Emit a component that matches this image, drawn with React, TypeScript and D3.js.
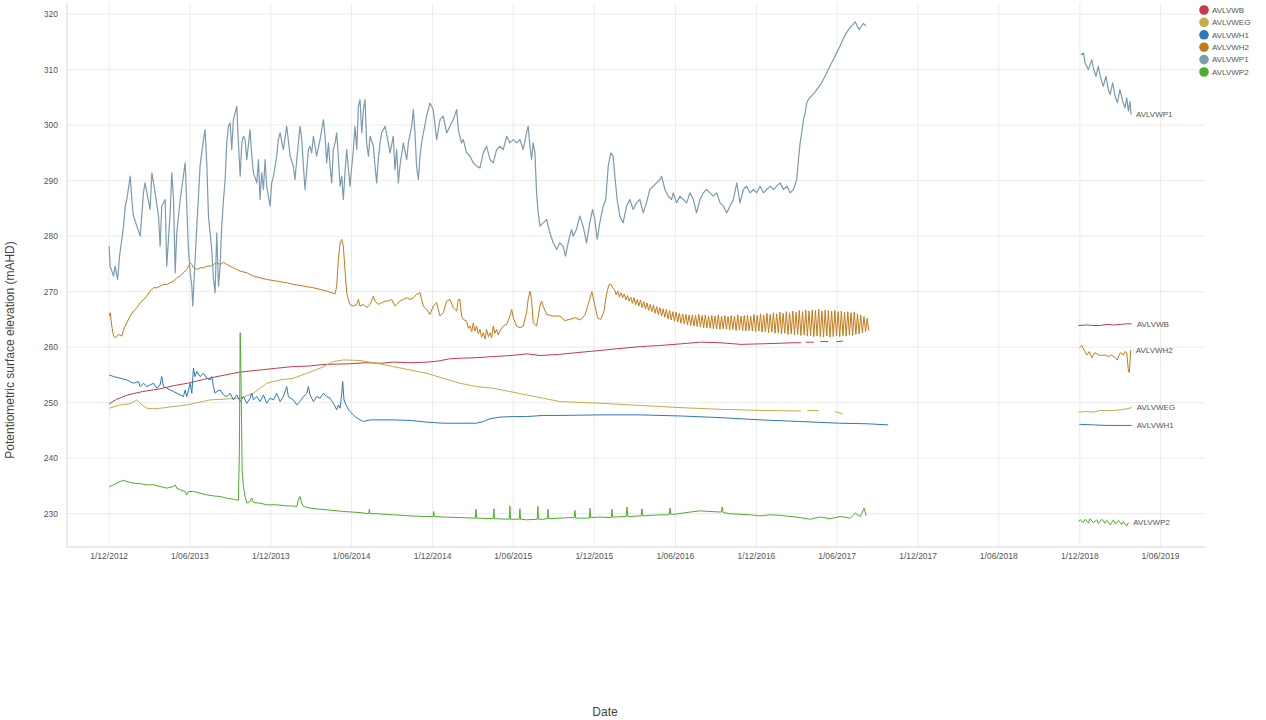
import React from 'react';
import * as d3 from 'd3';

type Pt = [number, number | null];

const seriesNames = ['AVLVWB', 'AVLVWEG', 'AVLVWH1', 'AVLVWH2', 'AVLVWP1', 'AVLVWP2'];
const seriesColors = ['#c43b4c', '#c9ab47', '#2a79b8', '#c67a16', '#7b9bb1', '#4caf2b'];
const yTicks = [230, 240, 250, 260, 270, 280, 290, 300, 310, 320];
const xTickLabels = ['1/12/2012', '1/06/2013', '1/12/2013', '1/06/2014', '1/12/2014', '1/06/2015', '1/12/2015', '1/06/2016', '1/12/2016', '1/06/2017', '1/12/2017', '1/06/2018', '1/12/2018', '1/06/2019'];
const xDomainYears = [2012.655, 2019.689];
const yDomain = [224, 322];

const dataB: Pt[] = [
  [2012.915, 249.8], [2012.96, 250.6], [2013.03, 251.4], [2013.12, 252.0], [2013.23, 252.5], [2013.32, 253.1], [2013.40, 253.5],
  [2013.50, 254.2], [2013.60, 254.8], [2013.72, 255.5], [2013.85, 255.9], [2013.95, 256.2], [2014.05, 256.5], [2014.15, 256.6],
  [2014.25, 256.9], [2014.40, 257.0], [2014.50, 257.2], [2014.60, 257.1], [2014.67, 257.3], [2014.78, 257.2], [2014.88, 257.3],
  [2014.95, 257.5], [2015.02, 257.9], [2015.08, 258.0], [2015.18, 258.1], [2015.29, 258.3], [2015.40, 258.5], [2015.50, 258.8],
  [2015.58, 258.5], [2015.70, 258.7], [2015.80, 259.0], [2015.95, 259.4], [2016.05, 259.7], [2016.20, 260.1], [2016.32, 260.3],
  [2016.45, 260.6], [2016.57, 260.9], [2016.69, 260.8], [2016.82, 260.5], [2016.94, 260.6], [2017.06, 260.7], [2017.14, 260.8],
  [2017.19, 260.8], [2017.205, null], [2017.22, 260.9], [2017.27, 260.9], [2017.29, null], [2017.31, 261.0], [2017.36, 261.0],
  [2017.385, null], [2017.41, 261.0], [2017.45, 261.1], [2018.5, null],
  [2018.906, 263.9], [2018.958, 264.0], [2018.999, 263.9], [2019.040, 263.9], [2019.081, 264.1], [2019.123, 264.0],
  [2019.164, 264.1], [2019.205, 264.2], [2019.236, 264.2],
];

const dataEG: Pt[] = [
  [2012.915, 249.0], [2012.983, 249.6], [2013.045, 249.8], [2013.086, 250.5], [2013.117, 249.6], [2013.148, 249.0], [2013.189, 248.9],
  [2013.230, 249.0], [2013.313, 249.3], [2013.395, 249.6], [2013.539, 250.5], [2013.725, 250.8], [2013.807, 251.7], [2013.889, 253.5],
  [2013.972, 254.1], [2014.054, 254.4], [2014.137, 255.3], [2014.219, 256.2], [2014.301, 257.4], [2014.363, 257.7], [2014.466, 257.6],
  [2014.569, 257.1], [2014.672, 256.5], [2014.775, 255.9], [2014.878, 255.3], [2014.981, 254.4], [2015.084, 253.5], [2015.187, 252.9],
  [2015.290, 252.6], [2015.393, 252.0], [2015.496, 251.4], [2015.599, 250.8], [2015.702, 250.2], [2015.95, 249.9], [2016.2, 249.5],
  [2016.45, 249.1], [2016.7, 248.8], [2016.94, 248.6], [2017.19, 248.5], [2017.205, null], [2017.23, 248.6], [2017.30, 248.6],
  [2017.33, null], [2017.40, 248.4], [2017.45, 248.0], [2018.5, null],
  [2018.906, 248.3], [2018.958, 248.4], [2018.999, 248.3], [2019.040, 248.6], [2019.081, 248.6], [2019.123, 248.6],
  [2019.164, 248.7], [2019.205, 248.9], [2019.236, 249.1],
];

const dataH1: Pt[] = [
  [2012.915, 255.0], [2012.942, 254.7], [2012.983, 254.4], [2013.024, 254.1], [2013.065, 253.5], [2013.096, 253.8], [2013.107, 252.9],
  [2013.127, 253.5], [2013.148, 252.9], [2013.168, 253.2], [2013.189, 253.5], [2013.210, 252.6], [2013.230, 253.2], [2013.240, 254.7],
  [2013.251, 252.9], [2013.271, 252.6], [2013.313, 252.0], [2013.354, 251.4], [2013.374, 251.1], [2013.385, 252.3], [2013.395, 251.1],
  [2013.416, 253.5], [2013.426, 251.7], [2013.436, 256.2], [2013.446, 254.7], [2013.457, 255.6], [2013.477, 254.7], [2013.498, 255.3],
  [2013.519, 254.4], [2013.539, 254.1], [2013.549, 254.7], [2013.560, 252.9], [2013.570, 251.7], [2013.580, 252.0], [2013.601, 252.3],
  [2013.622, 251.4], [2013.642, 251.1], [2013.663, 251.7], [2013.683, 250.5], [2013.704, 251.4], [2013.725, 250.2], [2013.745, 251.1],
  [2013.766, 249.9], [2013.786, 250.8], [2013.797, 251.7], [2013.807, 250.5], [2013.828, 251.1], [2013.848, 250.2], [2013.869, 251.4],
  [2013.889, 249.9], [2013.910, 250.8], [2013.931, 250.5], [2013.951, 251.7], [2013.972, 250.2], [2013.992, 251.1], [2014.013, 252.9],
  [2014.023, 251.1], [2014.054, 250.5], [2014.075, 249.6], [2014.095, 250.2], [2014.116, 251.1], [2014.137, 251.7], [2014.147, 252.9],
  [2014.157, 251.4], [2014.178, 250.2], [2014.198, 251.1], [2014.219, 250.8], [2014.240, 251.7], [2014.260, 251.1], [2014.281, 250.8],
  [2014.301, 249.9], [2014.312, 249.3], [2014.322, 248.7], [2014.332, 249.6], [2014.343, 249.0], [2014.353, 251.7], [2014.359, 253.8],
  [2014.367, 250.5], [2014.384, 249.3], [2014.404, 248.4], [2014.435, 247.5], [2014.466, 246.9], [2014.487, 246.6], [2014.528, 246.9],
  [2014.590, 246.9], [2014.672, 246.9], [2014.775, 246.8], [2014.878, 246.5], [2014.981, 246.3], [2015.084, 246.3], [2015.187, 246.3],
  [2015.228, 246.6], [2015.270, 247.1], [2015.331, 247.4], [2015.414, 247.5], [2015.496, 247.5], [2015.599, 247.7], [2015.702, 247.7],
  [2015.95, 247.8], [2016.2, 247.8], [2016.45, 247.6], [2016.7, 247.3], [2016.94, 246.9], [2017.19, 246.6], [2017.43, 246.3],
  [2017.6, 246.2], [2017.73, 246.0], [2018.5, null],
  [2018.912, 246.1], [2018.999, 246.0], [2019.081, 245.9], [2019.164, 245.9], [2019.236, 245.9],
];

const dataH2: Pt[] = [
  [2012.915, 265.6], [2012.921, 266.2], [2012.931, 263.8], [2012.942, 262.0], [2012.952, 261.7], [2012.973, 262.3], [2012.993, 262.0],
  [2013.004, 263.2], [2013.024, 264.4], [2013.045, 265.6], [2013.065, 266.5], [2013.086, 267.1], [2013.107, 268.0], [2013.127, 268.6],
  [2013.148, 269.2], [2013.168, 270.1], [2013.189, 270.7], [2013.210, 270.7], [2013.230, 271.0], [2013.251, 271.3], [2013.271, 271.3],
  [2013.292, 271.6], [2013.313, 271.9], [2013.333, 272.5], [2013.354, 272.8], [2013.374, 273.4], [2013.395, 274.0], [2013.416, 275.2],
  [2013.426, 274.9], [2013.436, 274.3], [2013.457, 274.0], [2013.477, 274.3], [2013.498, 274.3], [2013.519, 274.6], [2013.539, 274.6],
  [2013.560, 274.9], [2013.580, 275.2], [2013.601, 274.9], [2013.622, 275.3], [2013.642, 274.9], [2013.663, 274.6], [2013.683, 274.3],
  [2013.704, 274.0], [2013.725, 273.7], [2013.766, 273.4], [2013.807, 272.8], [2013.848, 272.5], [2013.889, 272.2], [2013.951, 271.9],
  [2014.013, 271.6], [2014.054, 271.3], [2014.116, 271.0], [2014.178, 270.7], [2014.219, 270.4], [2014.260, 270.1], [2014.312, 269.6],
  [2014.322, 271.0], [2014.332, 275.8], [2014.343, 278.8], [2014.353, 279.4], [2014.363, 278.2], [2014.373, 274.0], [2014.384, 269.8],
  [2014.394, 268.6], [2014.404, 267.7], [2014.425, 267.4], [2014.446, 267.7], [2014.456, 268.6], [2014.466, 267.4], [2014.487, 267.7],
  [2014.507, 267.1], [2014.528, 267.7], [2014.549, 269.2], [2014.559, 268.3], [2014.579, 267.7], [2014.600, 268.0], [2014.621, 268.3],
  [2014.641, 268.3], [2014.662, 268.6], [2014.682, 267.4], [2014.693, 267.7], [2014.713, 268.3], [2014.734, 268.6], [2014.755, 268.9],
  [2014.775, 268.6], [2014.796, 268.9], [2014.816, 269.5], [2014.837, 269.8], [2014.847, 268.6], [2014.858, 267.4], [2014.878, 266.8],
  [2014.899, 265.9], [2014.919, 267.4], [2014.940, 268.0], [2014.950, 266.8], [2014.961, 265.6], [2014.981, 266.2], [2015.002, 268.3],
  [2015.022, 268.6], [2015.043, 267.1], [2015.064, 266.5], [2015.074, 268.6], [2015.084, 268.6], [2015.094, 265.6], [2015.105, 265.0],
  [2015.125, 264.7], [2015.136, 263.4], [2015.146, 263.8], [2015.157, 262.8], [2015.167, 264.4], [2015.177, 262.9], [2015.187, 263.8],
  [2015.198, 262.4], [2015.208, 263.2], [2015.218, 261.8], [2015.228, 262.6], [2015.239, 261.5], [2015.249, 263.2], [2015.260, 261.9],
  [2015.270, 262.6], [2015.280, 261.7], [2015.290, 263.8], [2015.300, 262.5], [2015.311, 263.2], [2015.321, 262.2], [2015.331, 262.9],
  [2015.352, 263.8], [2015.373, 264.1], [2015.393, 265.6], [2015.404, 266.8], [2015.414, 265.3], [2015.434, 263.8], [2015.455, 263.5],
  [2015.475, 263.8], [2015.496, 266.2], [2015.506, 268.6], [2015.517, 270.1], [2015.527, 268.6], [2015.537, 264.4], [2015.558, 263.8],
  [2015.579, 267.4], [2015.589, 268.3], [2015.599, 267.4], [2015.620, 265.9], [2015.661, 265.6], [2015.702, 265.6], [2015.733, 264.8],
  [2015.764, 265.0], [2015.795, 265.3], [2015.830, 264.9], [2015.857, 265.8], [2015.880, 268.0], [2015.900, 270.0], [2015.915, 268.0],
  [2015.935, 265.3], [2015.955, 265.0], [2015.975, 266.5], [2015.990, 269.5], [2016.005, 271.2], [2016.015, 271.4], [2016.030, 270.6],
  [2016.040, 270.4], [2016.050, 269.4], [2016.060, 270.1], [2016.070, 269.0], [2016.080, 269.8], [2016.090, 268.9], [2016.100, 269.6],
  [2016.110, 268.5], [2016.120, 269.3], [2016.130, 268.3], [2016.140, 269.0], [2016.150, 267.9], [2016.160, 268.9], [2016.170, 267.6],
  [2016.180, 268.6], [2016.190, 267.4], [2016.200, 268.5], [2016.210, 267.1], [2016.220, 268.2], [2016.230, 266.9], [2016.240, 268.0],
  [2016.250, 266.6], [2016.260, 267.7], [2016.270, 266.4], [2016.280, 267.6], [2016.290, 266.1], [2016.300, 267.3], [2016.310, 265.9],
  [2016.320, 267.1], [2016.330, 265.6], [2016.340, 266.9], [2016.350, 265.4], [2016.360, 266.8], [2016.370, 265.1], [2016.380, 266.6],
  [2016.390, 264.9], [2016.400, 266.4], [2016.410, 264.7], [2016.420, 266.3], [2016.430, 264.5], [2016.440, 266.1], [2016.450, 264.3],
  [2016.460, 266.0], [2016.470, 264.2], [2016.480, 265.9], [2016.490, 264.0], [2016.500, 265.8], [2016.510, 263.9], [2016.520, 265.8],
  [2016.530, 263.8], [2016.540, 265.7], [2016.550, 263.7], [2016.560, 265.9], [2016.570, 263.6], [2016.580, 265.7], [2016.590, 263.5],
  [2016.600, 265.8], [2016.610, 263.5], [2016.620, 265.6], [2016.630, 263.4], [2016.640, 265.7], [2016.650, 263.3], [2016.660, 265.6],
  [2016.670, 263.3], [2016.680, 265.8], [2016.690, 263.2], [2016.700, 265.6], [2016.710, 263.3], [2016.720, 265.7], [2016.730, 263.2],
  [2016.740, 265.5], [2016.750, 263.1], [2016.760, 265.7], [2016.770, 263.2], [2016.780, 265.6], [2016.790, 263.0], [2016.800, 265.8],
  [2016.810, 263.1], [2016.820, 265.6], [2016.830, 263.0], [2016.840, 265.7], [2016.850, 262.9], [2016.860, 265.8], [2016.870, 263.0],
  [2016.880, 265.6], [2016.890, 262.9], [2016.900, 265.9], [2016.910, 262.8], [2016.920, 265.7], [2016.930, 262.9], [2016.940, 266.0],
  [2016.950, 262.7], [2016.960, 265.8], [2016.970, 262.8], [2016.980, 266.1], [2016.990, 262.6], [2017.000, 265.9], [2017.010, 262.7],
  [2017.020, 266.2], [2017.030, 262.5], [2017.040, 266.0], [2017.050, 262.6], [2017.060, 266.3], [2017.070, 262.4], [2017.080, 266.1],
  [2017.090, 262.5], [2017.100, 266.4], [2017.110, 262.3], [2017.120, 266.2], [2017.130, 262.4], [2017.140, 266.5], [2017.150, 262.2],
  [2017.160, 266.3], [2017.170, 262.3], [2017.180, 266.6], [2017.190, 262.1], [2017.200, 266.4], [2017.210, 262.2], [2017.220, 266.7],
  [2017.230, 262.0], [2017.240, 266.5], [2017.250, 262.1], [2017.260, 266.7], [2017.270, 261.9], [2017.280, 266.6], [2017.290, 262.0],
  [2017.300, 266.8], [2017.310, 261.9], [2017.320, 266.5], [2017.330, 261.8], [2017.340, 266.7], [2017.350, 262.0], [2017.360, 266.6],
  [2017.370, 261.8], [2017.380, 266.5], [2017.390, 261.9], [2017.400, 266.6], [2017.410, 262.0], [2017.420, 266.4], [2017.430, 261.9],
  [2017.440, 266.5], [2017.450, 262.1], [2017.460, 266.3], [2017.470, 262.0], [2017.480, 266.4], [2017.490, 262.2], [2017.500, 266.2],
  [2017.510, 262.1], [2017.520, 266.3], [2017.530, 262.3], [2017.540, 266.0], [2017.550, 262.4], [2017.560, 265.8], [2017.570, 262.6],
  [2017.580, 265.5], [2017.590, 262.8], [2017.600, 265.2], [2017.610, 263.0], [2018.5, null],
  [2018.912, 259.9], [2018.927, 260.3], [2018.941, 259.5], [2018.958, 258.6], [2018.974, 259.2], [2018.989, 258.1], [2019.009, 259.0],
  [2019.030, 258.6], [2019.051, 258.5], [2019.071, 258.6], [2019.092, 258.3], [2019.112, 258.6], [2019.133, 258.1], [2019.147, 257.7],
  [2019.164, 259.0], [2019.184, 258.6], [2019.195, 259.2], [2019.205, 259.0], [2019.215, 255.9], [2019.221, 255.4], [2019.226, 257.7],
  [2019.230, 259.5],
];

const dataP1: Pt[] = [
  [2012.915, 278.2], [2012.921, 274.6], [2012.942, 272.8], [2012.952, 274.6], [2012.967, 272.2], [2012.979, 276.4], [2012.993, 279.4],
  [2013.004, 281.8], [2013.014, 285.4], [2013.024, 286.6], [2013.045, 290.8], [2013.055, 286.6], [2013.065, 283.6], [2013.086, 281.8],
  [2013.107, 280.0], [2013.127, 287.8], [2013.137, 289.6], [2013.152, 287.2], [2013.168, 284.8], [2013.179, 291.4], [2013.199, 287.8],
  [2013.220, 283.6], [2013.230, 278.2], [2013.240, 285.4], [2013.261, 286.6], [2013.271, 274.6], [2013.292, 284.2], [2013.302, 291.4],
  [2013.313, 286.6], [2013.323, 273.4], [2013.333, 280.6], [2013.354, 286.6], [2013.385, 293.2], [2013.395, 285.4], [2013.405, 277.6],
  [2013.416, 273.4], [2013.426, 271.0], [2013.432, 267.4], [2013.440, 272.2], [2013.457, 281.8], [2013.477, 292.6], [2013.498, 297.4],
  [2013.508, 299.2], [2013.519, 292.6], [2013.529, 283.6], [2013.539, 280.6], [2013.549, 277.6], [2013.560, 272.2], [2013.570, 269.8],
  [2013.580, 280.6], [2013.591, 271.0], [2013.601, 274.6], [2013.611, 281.8], [2013.622, 286.6], [2013.632, 290.2], [2013.642, 296.8],
  [2013.652, 299.8], [2013.663, 300.4], [2013.673, 295.6], [2013.683, 301.0], [2013.704, 303.4], [2013.714, 296.8], [2013.725, 290.8],
  [2013.735, 296.8], [2013.745, 298.0], [2013.755, 297.4], [2013.766, 293.8], [2013.786, 299.2], [2013.797, 294.4], [2013.807, 291.4],
  [2013.828, 289.6], [2013.838, 293.8], [2013.848, 286.6], [2013.858, 291.4], [2013.869, 288.4], [2013.879, 293.8], [2013.889, 289.0],
  [2013.910, 285.4], [2013.920, 289.6], [2013.931, 290.8], [2013.951, 294.4], [2013.961, 297.4], [2013.972, 298.6], [2013.992, 295.6],
  [2014.013, 299.8], [2014.034, 294.4], [2014.054, 292.6], [2014.064, 290.2], [2014.075, 293.8], [2014.085, 296.8], [2014.095, 299.8],
  [2014.106, 297.4], [2014.116, 292.6], [2014.126, 288.4], [2014.137, 292.0], [2014.147, 295.6], [2014.157, 296.2], [2014.167, 295.0],
  [2014.178, 298.0], [2014.198, 294.4], [2014.219, 297.4], [2014.240, 301.0], [2014.250, 298.0], [2014.260, 293.2], [2014.271, 296.8],
  [2014.281, 292.6], [2014.291, 289.6], [2014.301, 295.6], [2014.312, 296.8], [2014.322, 298.6], [2014.332, 294.4], [2014.343, 289.0],
  [2014.353, 290.8], [2014.363, 286.6], [2014.373, 291.4], [2014.384, 295.6], [2014.404, 289.0], [2014.425, 295.6], [2014.435, 299.8],
  [2014.446, 295.6], [2014.456, 303.4], [2014.466, 304.6], [2014.477, 298.6], [2014.487, 302.8], [2014.497, 304.6], [2014.507, 296.8],
  [2014.518, 294.4], [2014.528, 298.0], [2014.549, 296.2], [2014.559, 292.6], [2014.569, 289.6], [2014.579, 293.8], [2014.590, 296.8],
  [2014.600, 298.6], [2014.621, 299.8], [2014.641, 296.8], [2014.652, 295.0], [2014.672, 298.0], [2014.682, 292.0], [2014.693, 295.6],
  [2014.703, 289.6], [2014.713, 292.6], [2014.734, 296.8], [2014.755, 293.8], [2014.765, 296.8], [2014.786, 299.8], [2014.796, 302.8],
  [2014.806, 298.6], [2014.816, 292.6], [2014.827, 290.2], [2014.837, 294.4], [2014.847, 296.8], [2014.858, 298.6], [2014.878, 301.6],
  [2014.899, 304.0], [2014.919, 302.8], [2014.940, 297.4], [2014.961, 301.0], [2014.981, 301.6], [2015.002, 298.6], [2015.022, 299.8],
  [2015.043, 301.0], [2015.064, 302.8], [2015.074, 299.2], [2015.094, 296.8], [2015.105, 297.4], [2015.125, 295.0], [2015.146, 294.4],
  [2015.167, 293.2], [2015.187, 292.6], [2015.208, 292.3], [2015.228, 295.0], [2015.249, 296.2], [2015.270, 293.8], [2015.290, 293.2],
  [2015.311, 295.6], [2015.331, 296.2], [2015.352, 295.6], [2015.373, 298.0], [2015.393, 296.8], [2015.414, 297.4], [2015.434, 296.8],
  [2015.455, 297.4], [2015.475, 295.6], [2015.496, 298.6], [2015.506, 299.8], [2015.517, 296.2], [2015.527, 293.8], [2015.537, 296.8],
  [2015.548, 295.0], [2015.558, 287.8], [2015.568, 284.2], [2015.579, 281.8], [2015.599, 282.4], [2015.620, 283.0], [2015.640, 280.6],
  [2015.661, 278.8], [2015.682, 277.6], [2015.702, 278.8], [2015.722, 278.2], [2015.737, 276.4], [2015.753, 278.8], [2015.774, 281.2],
  [2015.784, 280.0], [2015.805, 281.2], [2015.825, 283.6], [2015.846, 281.8], [2015.867, 278.8], [2015.887, 282.4], [2015.904, 284.8],
  [2015.918, 283.0], [2015.933, 279.4], [2015.949, 282.4], [2015.970, 285.4], [2015.986, 286.6], [2016.001, 292.6], [2016.017, 295.0],
  [2016.031, 294.4], [2016.042, 290.8], [2016.056, 286.6], [2016.073, 283.6], [2016.093, 282.4], [2016.114, 285.4], [2016.134, 286.6],
  [2016.155, 284.8], [2016.176, 286.0], [2016.196, 286.6], [2016.217, 284.2], [2016.237, 286.0], [2016.258, 288.4], [2016.279, 289.0],
  [2016.299, 289.6], [2016.320, 290.2], [2016.330, 290.8], [2016.351, 288.4], [2016.371, 287.2], [2016.392, 286.6], [2016.402, 287.8],
  [2016.423, 286.0], [2016.443, 287.2], [2016.464, 286.6], [2016.485, 286.0], [2016.505, 287.8], [2016.526, 286.6], [2016.546, 284.2],
  [2016.567, 286.6], [2016.588, 287.8], [2016.608, 288.4], [2016.629, 287.8], [2016.649, 287.2], [2016.670, 287.8], [2016.691, 286.0],
  [2016.711, 285.4], [2016.732, 284.2], [2016.752, 285.4], [2016.773, 286.6], [2016.794, 289.6], [2016.804, 287.8], [2016.814, 286.0],
  [2016.835, 288.4], [2016.855, 289.0], [2016.876, 287.8], [2016.897, 288.4], [2016.917, 287.8], [2016.938, 289.0], [2016.958, 287.8],
  [2016.979, 288.4], [2017.000, 289.0], [2017.020, 288.4], [2017.041, 289.0], [2017.061, 289.6], [2017.082, 288.4], [2017.103, 289.0],
  [2017.123, 287.8], [2017.144, 288.4], [2017.164, 290.2], [2017.175, 293.8], [2017.185, 296.8], [2017.195, 298.6], [2017.206, 301.0],
  [2017.216, 302.2], [2017.226, 304.0], [2017.236, 304.6], [2017.278, 306.0], [2017.322, 307.8], [2017.371, 310.7], [2017.421, 313.6],
  [2017.464, 316.3], [2017.495, 317.6], [2017.526, 318.6], [2017.550, 317.2], [2017.575, 318.3], [2017.594, 317.9], [2018.5, null],
  [2018.921, 312.7], [2018.937, 313.0], [2018.947, 311.2], [2018.968, 310.0], [2018.989, 311.8], [2018.998, 310.3], [2019.015, 308.8],
  [2019.029, 310.6], [2019.044, 308.5], [2019.060, 307.0], [2019.077, 308.8], [2019.091, 306.4], [2019.102, 305.5], [2019.118, 307.6],
  [2019.133, 305.2], [2019.147, 304.0], [2019.163, 306.4], [2019.180, 304.3], [2019.194, 303.1], [2019.205, 304.9], [2019.215, 302.5],
  [2019.225, 304.3], [2019.231, 301.9],
];

const dataP2: Pt[] = [
  [2012.915, 234.9], [2012.942, 235.2], [2012.983, 235.8], [2013.004, 236.0], [2013.024, 235.8], [2013.065, 235.5], [2013.107, 235.4],
  [2013.148, 235.2], [2013.189, 235.2], [2013.230, 234.9], [2013.271, 234.6], [2013.313, 234.9], [2013.323, 235.2], [2013.333, 234.6],
  [2013.354, 234.3], [2013.385, 234.0], [2013.395, 233.4], [2013.405, 234.0], [2013.436, 234.0], [2013.477, 233.7], [2013.519, 233.4],
  [2013.560, 233.2], [2013.601, 233.1], [2013.642, 232.8], [2013.683, 232.6], [2013.714, 232.4], [2013.720, 240.9], [2013.725, 262.6],
  [2013.731, 252.9], [2013.737, 237.9], [2013.745, 234.9], [2013.755, 233.1], [2013.766, 231.9], [2013.786, 232.2], [2013.797, 232.8],
  [2013.807, 232.0], [2013.848, 231.9], [2013.889, 231.6], [2013.951, 231.6], [2014.013, 231.4], [2014.054, 231.4], [2014.075, 231.3],
  [2014.085, 232.5], [2014.095, 233.1], [2014.106, 231.9], [2014.116, 231.3], [2014.157, 231.0], [2014.219, 230.8], [2014.260, 230.7],
  [2014.363, 230.4], [2014.466, 230.2], [2014.520, 230.0], [2014.524, 230.8], [2014.528, 230.0], [2014.569, 230.0], [2014.672, 229.8],
  [2014.775, 229.6], [2014.878, 229.5], [2014.918, 229.5], [2014.922, 230.4], [2014.926, 229.5], [2014.981, 229.4], [2015.084, 229.3],
  [2015.179, 229.2], [2015.183, 230.8], [2015.187, 229.2], [2015.290, 229.1], [2015.294, 230.9], [2015.298, 229.1], [2015.389, 229.0],
  [2015.393, 231.4], [2015.397, 229.0], [2015.451, 229.0], [2015.455, 230.9], [2015.459, 229.0], [2015.496, 228.9], [2015.562, 229.0],
  [2015.566, 231.3], [2015.570, 229.0], [2015.599, 229.0], [2015.624, 229.1], [2015.628, 230.8], [2015.632, 229.1], [2015.702, 229.2],
  [2015.764, 229.3], [2015.790, 229.3], [2015.795, 230.6], [2015.800, 229.2], [2015.826, 229.2], [2015.884, 229.2], [2015.888, 231.0],
  [2015.892, 229.3], [2015.950, 229.4], [2016.011, 229.3], [2016.020, 229.3], [2016.024, 230.8], [2016.028, 229.4], [2016.042, 229.4],
  [2016.104, 229.5], [2016.112, 229.5], [2016.117, 231.2], [2016.122, 229.5], [2016.135, 229.5], [2016.197, 229.6], [2016.204, 229.6],
  [2016.209, 230.9], [2016.214, 229.6], [2016.259, 229.7], [2016.320, 229.8], [2016.377, 229.8], [2016.382, 231.0], [2016.387, 229.9],
  [2016.413, 229.9], [2016.506, 230.3], [2016.568, 230.5], [2016.629, 230.4], [2016.691, 230.3], [2016.699, 230.3], [2016.704, 231.2],
  [2016.709, 230.2], [2016.753, 230.0], [2016.815, 229.9], [2016.877, 229.8], [2016.938, 229.6], [2017.000, 229.8], [2017.062, 229.7],
  [2017.124, 229.5], [2017.186, 229.3], [2017.247, 229.0], [2017.309, 229.4], [2017.371, 229.1], [2017.433, 229.5], [2017.495, 229.2],
  [2017.526, 230.1], [2017.557, 229.5], [2017.581, 231.0], [2017.594, 229.6], [2018.5, null],
  [2018.906, 228.6], [2018.917, 228.9], [2018.937, 228.4], [2018.948, 229.0], [2018.968, 228.3], [2018.978, 229.1], [2018.999, 228.4],
  [2019.020, 228.9], [2019.030, 228.2], [2019.051, 229.0], [2019.071, 228.3], [2019.081, 228.8], [2019.102, 228.0], [2019.123, 228.9],
  [2019.133, 228.2], [2019.154, 228.8], [2019.174, 228.0], [2019.184, 228.6], [2019.205, 227.8], [2019.215, 228.4],
];

const seriesData: Pt[][] = [dataB, dataEG, dataH1, dataH2, dataP1, dataP2];

function yearToDate(t: number): Date {
  const y = Math.floor(t);
  const start = Date.UTC(y, 0, 1);
  const end = Date.UTC(y + 1, 0, 1);
  return new Date(start + (t - y) * (end - start));
}

function parseLabel(s: string): Date {
  const [d, m, y] = s.split('/').map(Number);
  return new Date(Date.UTC(y, m - 1, d));
}

const W = 1266;
const H = 720;
const plot = { left: 67, right: 1205, top: 3, bottom: 547 };
const FONT = "'Liberation Sans', Arial, sans-serif";

export default function App() {
  const x = d3.scaleUtc()
    .domain([yearToDate(xDomainYears[0]), yearToDate(xDomainYears[1])])
    .range([plot.left, plot.right]);
  const y = d3.scaleLinear().domain(yDomain).range([plot.bottom, plot.top]);
  const line = d3.line<Pt>()
    .defined((d) => d[1] != null)
    .x((d) => x(yearToDate(d[0])))
    .y((d) => y(d[1] as number));

  const xTicks = xTickLabels.map(parseLabel);

  return (
    <div style={{ position: 'absolute', left: 0, top: 0 }}>
      <svg width={W} height={H} style={{ display: 'block', background: '#fff' }}>
        {yTicks.map((t) => (
          <line key={'gy' + t} x1={plot.left} x2={plot.right} y1={y(t)} y2={y(t)} stroke="#ebebeb" strokeWidth={1} />
        ))}
        {xTicks.map((t, i) => (
          <line key={'gx' + i} x1={x(t)} x2={x(t)} y1={plot.top} y2={plot.bottom} stroke="#ebebeb" strokeWidth={1} />
        ))}
        <line x1={plot.left} x2={plot.left} y1={plot.top} y2={plot.bottom} stroke="#d6d6d6" />
        <line x1={plot.left} x2={plot.right} y1={plot.bottom} y2={plot.bottom} stroke="#d6d6d6" />

        {yTicks.map((t) => (
          <text key={'ty' + t} x={58} y={y(t)} dy="0.35em" textAnchor="end" fontSize={8.5} fill="#555" fontFamily={FONT}>
            {t}
          </text>
        ))}
        {xTicks.map((t, i) => (
          <text key={'tx' + i} x={x(t)} y={559} textAnchor="middle" fontSize={8.5} fill="#555" fontFamily={FONT}>
            {xTickLabels[i]}
          </text>
        ))}

        {seriesData.map((data, i) => (
          <path key={'s' + i} d={line(data) || ''} fill="none" stroke={seriesColors[i]} strokeWidth={i === 4 ? 1.2 : 1} strokeLinejoin="round" />
        ))}

        {seriesData.map((data, i) => {
          const defined = data.filter((d) => d[1] != null);
          const last = defined[defined.length - 1];
          return (
            <text key={'el' + i} x={x(yearToDate(last[0])) + 5} y={y(last[1] as number)} dy="0.35em" fontSize={8} fill="#555" fontFamily={FONT}>
              {seriesNames[i]}
            </text>
          );
        })}

        {seriesNames.map((n, i) => (
          <g key={'lg' + i} transform={`translate(1204, ${10 + i * 12.4})`}>
            <circle r={4.8} fill={seriesColors[i]} />
            <text x={8} dy="0.35em" fontSize={8} fill="#555" fontFamily={FONT}>{n}</text>
          </g>
        ))}

        <text transform={`translate(14, 350) rotate(-90)`} textAnchor="middle" fontSize={12} fill="#444" fontFamily={FONT}>
          Potentiometric surface elevation (mAHD)
        </text>
        <text x={605} y={716} textAnchor="middle" fontSize={12} fill="#444" fontFamily={FONT}>
          Date
        </text>
      </svg>
    </div>
  );
}
